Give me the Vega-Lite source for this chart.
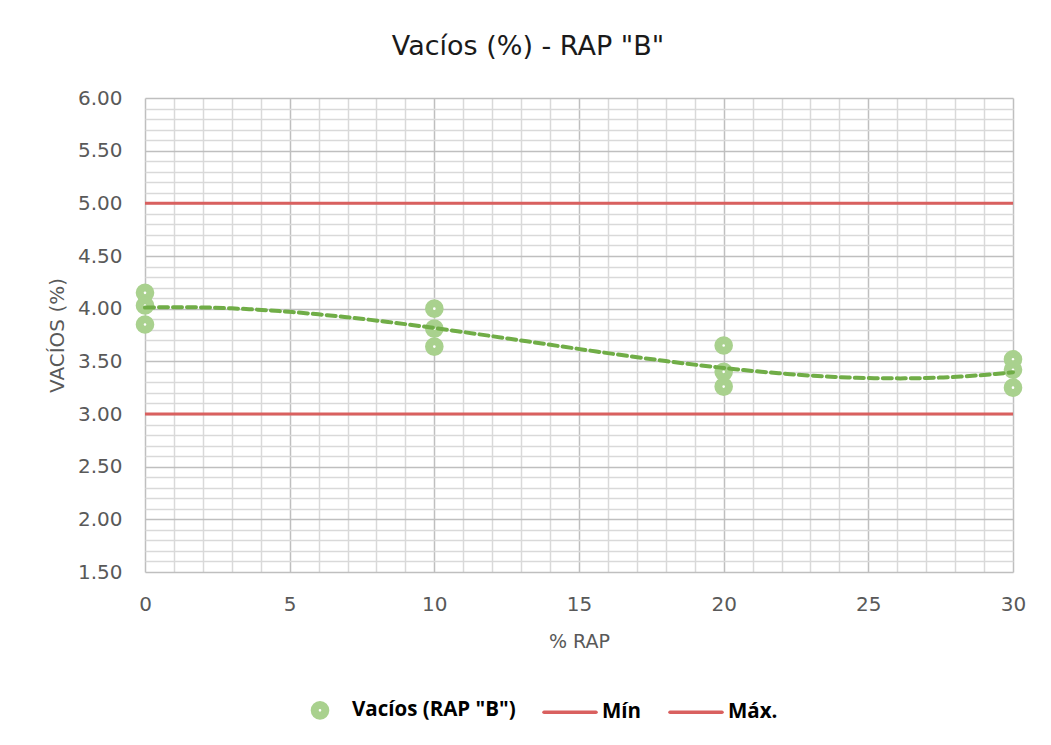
{
  "$schema": "https://vega.github.io/schema/vega-lite/v6.json",
  "width": 868,
  "height": 474,
  "autosize": {"type": "none"},
  "padding": {"left": 145, "top": 98, "right": 38, "bottom": 173},
  "background": "white",
  "title": {
    "text": "Vacíos (%) - RAP \"B\"",
    "font": "DejaVu Sans",
    "fontSize": 27,
    "fontWeight": "normal",
    "color": "#1a1a1a",
    "anchor": "middle",
    "baseline": "alphabetic",
    "dx": -51,
    "offset": 6
  },
  "datasets": {
    "ensayos": [
      {"rap": 0, "vacios": 4.15, "serie": "Vacíos (RAP \"B\")"},
      {"rap": 0, "vacios": 4.03, "serie": "Vacíos (RAP \"B\")"},
      {"rap": 0, "vacios": 3.85, "serie": "Vacíos (RAP \"B\")"},
      {"rap": 10, "vacios": 4.00, "serie": "Vacíos (RAP \"B\")"},
      {"rap": 10, "vacios": 3.81, "serie": "Vacíos (RAP \"B\")"},
      {"rap": 10, "vacios": 3.64, "serie": "Vacíos (RAP \"B\")"},
      {"rap": 20, "vacios": 3.65, "serie": "Vacíos (RAP \"B\")"},
      {"rap": 20, "vacios": 3.40, "serie": "Vacíos (RAP \"B\")"},
      {"rap": 20, "vacios": 3.26, "serie": "Vacíos (RAP \"B\")"},
      {"rap": 30, "vacios": 3.52, "serie": "Vacíos (RAP \"B\")"},
      {"rap": 30, "vacios": 3.42, "serie": "Vacíos (RAP \"B\")"},
      {"rap": 30, "vacios": 3.25, "serie": "Vacíos (RAP \"B\")"}
    ],
    "limites": [
      {"rap": 0, "vacios": 3.0, "serie": "Mín"},
      {"rap": 30, "vacios": 3.0, "serie": "Mín"},
      {"rap": 0, "vacios": 5.0, "serie": "Máx."},
      {"rap": 30, "vacios": 5.0, "serie": "Máx."}
    ]
  },
  "encoding": {
    "x": {
      "field": "rap",
      "type": "quantitative",
      "title": "% RAP",
      "scale": {"domain": [0, 30], "nice": false, "zero": false},
      "axis": {
        "values": [0, 1, 2, 3, 4, 5, 6, 7, 8, 9, 10, 11, 12, 13, 14, 15, 16, 17, 18, 19, 20, 21, 22, 23, 24, 25, 26, 27, 28, 29, 30],
        "labelExpr": "datum.value % 5 === 0 ? datum.label : ''",
        "gridColor": {"condition": {"test": "datum.value % 5 === 0", "value": "#bfbfbf"}, "value": "#d9d9d9"},
        "labelPadding": 22,
        "titlePadding": 18,
        "titleFontSize": 19
      }
    },
    "y": {
      "field": "vacios",
      "type": "quantitative",
      "title": "VACÍOS (%)",
      "scale": {"domain": [1.5, 6.0], "nice": false, "zero": false},
      "axis": {
        "values": [1.5, 1.6, 1.7, 1.8, 1.9, 2.0, 2.1, 2.2, 2.3, 2.4, 2.5, 2.6, 2.7, 2.8, 2.9, 3.0, 3.1, 3.2, 3.3, 3.4, 3.5, 3.6, 3.7, 3.8, 3.9, 4.0, 4.1, 4.2, 4.3, 4.4, 4.5, 4.6, 4.7, 4.8, 4.9, 5.0, 5.1, 5.2, 5.3, 5.4, 5.5, 5.6, 5.7, 5.8, 5.9, 6.0],
        "labelExpr": "abs(datum.value * 2 - round(datum.value * 2)) < 0.001 ? format(datum.value, '.2f') : ''",
        "gridColor": {"condition": {"test": "abs(datum.value * 2 - round(datum.value * 2)) < 0.001", "value": "#bfbfbf"}, "value": "#d9d9d9"},
        "labelPadding": 23,
        "titlePadding": 10
      }
    },
    "color": {
      "field": "serie",
      "type": "nominal",
      "scale": {
        "domain": ["Vacíos (RAP \"B\")", "Mín", "Máx."],
        "range": ["#a9d18e", "#d9605f", "#d9605f"]
      },
      "legend": {
        "title": null,
        "orient": "none",
        "direction": "horizontal",
        "legendX": 149,
        "legendY": 598,
        "symbolType": "circle",
        "symbolStrokeWidth": 3,
        "columnPadding": 21,
        "labelFont": "Open Sans",
        "labelFontSize": 20.5,
        "labelFontWeight": "bold",
        "labelColor": "#000000",
        "labelLimit": 400,
        "encode": {
          "symbols": {
            "update": {
              "x": {"value": 26},
              "y": {"signal": "(datum.value === 'Mín' || datum.value === 'Máx.') ? 7 : 14"},
              "shape": {"signal": "(datum.value === 'Mín' || datum.value === 'Máx.') ? 'M-1,0H1' : 'circle'"},
              "size": {"signal": "(datum.value === 'Mín' || datum.value === 'Máx.') ? 2704 : 113"},
              "strokeWidth": {"signal": "(datum.value === 'Mín' || datum.value === 'Máx.') ? 3.5 : 8"},
              "strokeCap": {"value": "round"},
              "fill": {"signal": "(datum.value === 'Mín' || datum.value === 'Máx.') ? 'transparent' : 'white'"},
              "stroke": {"scale": "color", "field": "value"},
              "opacity": {"value": 1}
            }
          },
          "labels": {
            "update": {
              "x": {"value": 58},
              "y": {"signal": "(datum.value === 'Mín' || datum.value === 'Máx.') ? 7 : 14"},
              "baseline": {"value": "middle"}
            }
          }
        }
      }
    }
  },
  "layer": [
    {
      "data": {"name": "limites"},
      "mark": {"type": "line", "strokeWidth": 3}
    },
    {
      "data": {"name": "ensayos"},
      "mark": {"type": "point", "shape": "circle", "filled": false, "fill": "white", "fillOpacity": 1, "opacity": 1, "size": 113, "strokeWidth": 8}
    },
    {
      "data": {"name": "ensayos"},
      "transform": [
        {"regression": "vacios", "on": "rap", "groupby": ["serie"], "method": "poly", "order": 3, "extent": [0, 30]}
      ],
      "mark": {"type": "line", "strokeWidth": 4, "strokeDash": [9, 5], "strokeCap": "round"},
      "encoding": {
        "color": {"value": "#70ad47"},
        "detail": {"field": "serie", "type": "nominal"}
      }
    }
  ],
  "config": {
    "font": "DejaVu Sans",
    "view": {"stroke": null},
    "axis": {
      "grid": true,
      "gridWidth": 1.5,
      "domain": false,
      "ticks": false,
      "tickSize": 0,
      "labelFont": "DejaVu Sans",
      "labelFontSize": 20,
      "labelColor": "#595959",
      "labelOverlap": false,
      "labelFlush": false,
      "titleFont": "DejaVu Sans",
      "titleFontSize": 20,
      "titleFontWeight": "normal",
      "titleColor": "#595959"
    }
  }
}
